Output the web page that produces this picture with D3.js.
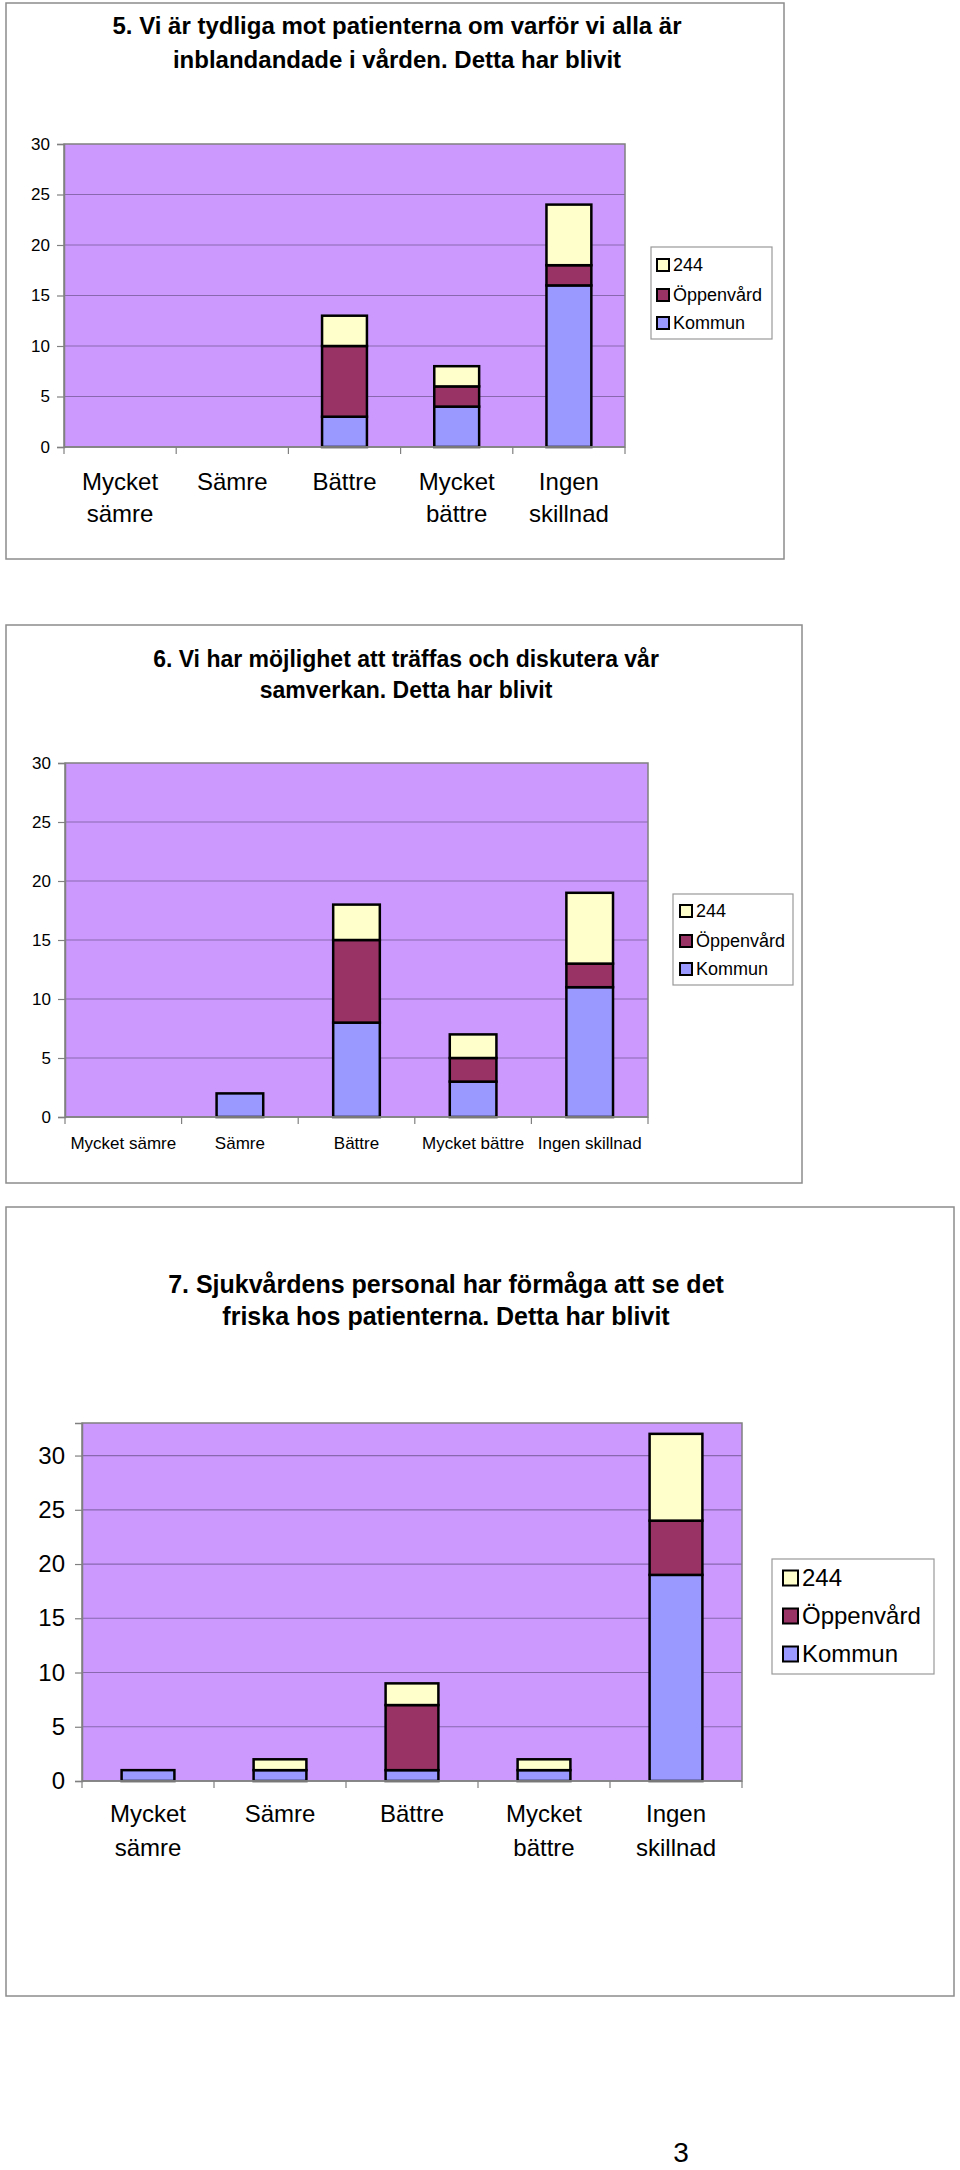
<!DOCTYPE html>
<html>
<head>
<meta charset="utf-8">
<script src="https://cdn.jsdelivr.net/npm/d3@7"></script>
<style>
  html, body { margin: 0; padding: 0; background: #fff; }
  svg { display: block; }
  text { font-family: "Liberation Sans", Arial, sans-serif; fill: #000; }
</style>
</head>
<body>
<svg id="page" width="960" height="2170"></svg>
<script>
// ---------- DATA ----------
const categories = ["Mycket sämre", "Sämre", "Bättre", "Mycket bättre", "Ingen skillnad"];
const seriesNames = ["Kommun", "Öppenvård", "244"];
const legendOrder = ["244", "Öppenvård", "Kommun"];
const yTicks = [0, 5, 10, 15, 20, 25, 30];

const q5Title = ["5. Vi är tydliga mot patienterna om varför vi alla är", "inblandandade i vården. Detta har blivit"];
const q5Kommun = [0, 0, 3, 4, 16];
const q5Oppenvard = [0, 0, 7, 2, 2];
const q5Ny244 = [0, 0, 3, 2, 6];

const q6Title = ["6. Vi har möjlighet att träffas och diskutera vår", "samverkan. Detta har blivit"];
const q6Kommun = [0, 2, 8, 3, 11];
const q6Oppenvard = [0, 0, 7, 2, 2];
const q6Ny244 = [0, 0, 3, 2, 6];

const q7Title = ["7. Sjukvårdens personal har förmåga att se det", "friska hos patienterna. Detta har blivit"];
const q7Kommun = [1, 1, 1, 1, 19];
const q7Oppenvard = [0, 0, 6, 0, 5];
const q7Ny244 = [0, 1, 2, 1, 8];

const pageNumber = "3";

// ---------- STYLE ----------
const colors = { "Kommun": "#9999FF", "Öppenvård": "#993366", "244": "#FFFFCC" };
const plotFill = "#CC99FF";
const gridColor = "#8a68b0";
const axisColor = "#808080";

const svg = d3.select("#page");

function drawChart(cfg) {
  const g = svg.append("g");
  // outer frame
  g.append("rect")
    .attr("x", cfg.frame[0]).attr("y", cfg.frame[1])
    .attr("width", cfg.frame[2] - cfg.frame[0]).attr("height", cfg.frame[3] - cfg.frame[1])
    .attr("fill", "#fff").attr("stroke", "#8c8c8c").attr("stroke-width", 1.5);

  // title
  cfg.title.forEach((line, i) => {
    g.append("text")
      .attr("x", cfg.titleX).attr("y", cfg.titleY + i * cfg.titleGap)
      .attr("text-anchor", "middle")
      .attr("font-weight", "bold")
      .attr("font-size", cfg.titleSize)
      .text(line);
  });

  const [L, T, R, B] = cfg.plot;
  const x = d3.scaleBand().domain(categories).range([L, R]).paddingInner(0.6).paddingOuter(0.3);
  const xb = d3.scaleBand().domain(categories).range([L, R]);
  const y = d3.scaleLinear().domain([0, cfg.yMax]).range([B, T]);

  // plot area
  g.append("rect").attr("x", L).attr("y", T).attr("width", R - L).attr("height", B - T)
    .attr("fill", plotFill);

  // gridlines
  g.selectAll(".grid").data(yTicks.filter(t => t > 0 && y(t) > T + 1)).enter().append("line")
    .attr("x1", L).attr("x2", R).attr("y1", d => y(d)).attr("y2", d => y(d))
    .attr("stroke", gridColor).attr("stroke-width", 1.2);

  // stacked bars
  const rows = categories.map((c, i) => ({ cat: c, "Kommun": cfg.kommun[i], "Öppenvård": cfg.oppen[i], "244": cfg.ny244[i] }));
  const stacked = d3.stack().keys(seriesNames)(rows);
  stacked.forEach(layer => {
    g.append("g").selectAll("rect").data(layer.filter(d => d[1] - d[0] > 0)).enter().append("rect")
      .attr("x", d => x(d.data.cat))
      .attr("width", x.bandwidth())
      .attr("y", d => y(d[1]))
      .attr("height", d => y(d[0]) - y(d[1]))
      .attr("fill", colors[layer.key])
      .attr("stroke", "#000").attr("stroke-width", 2.5);
  });

  // plot border
  g.append("rect").attr("x", L).attr("y", T).attr("width", R - L).attr("height", B - T)
    .attr("fill", "none").attr("stroke", axisColor).attr("stroke-width", 1.5);

  // y axis
  const yAxis = d3.axisLeft(y).tickValues(yTicks).tickSize(7).tickPadding(cfg.yPad).tickFormat(d3.format("d"));
  const ya = g.append("g").attr("transform", `translate(${L},0)`).call(yAxis);
  ya.select(".domain").attr("stroke", axisColor).attr("stroke-width", 1.5);
  ya.selectAll(".tick line").attr("stroke", axisColor).attr("stroke-width", 1.2);
  ya.selectAll(".tick text").attr("font-size", cfg.yFont).attr("font-family", "Liberation Sans, Arial, sans-serif").attr("fill", "#000");

  // x axis (ticks at band boundaries)
  const xa = g.append("g").attr("transform", `translate(0,${B})`);
  xa.append("line").attr("x1", L).attr("x2", R).attr("stroke", axisColor).attr("stroke-width", 1.5);
  const bounds = categories.map(c => xb(c)).concat([R]);
  xa.selectAll(".xt").data(bounds).enter().append("line")
    .attr("x1", d => d).attr("x2", d => d).attr("y1", 0).attr("y2", 7)
    .attr("stroke", axisColor).attr("stroke-width", 1.2);

  // category labels
  categories.forEach(c => {
    const cx = xb(c) + xb.bandwidth() / 2;
    const lines = cfg.wrap ? c.split(" ") : [c];
    lines.forEach((ln, i) => {
      g.append("text").attr("x", cx).attr("y", cfg.xLabelY + i * cfg.xLabelGap)
        .attr("text-anchor", "middle").attr("font-size", cfg.xFont).text(ln);
    });
  });

  // legend
  const [lx0, ly0, lx1, ly1] = cfg.legend;
  g.append("rect").attr("x", lx0).attr("y", ly0).attr("width", lx1 - lx0).attr("height", ly1 - ly0)
    .attr("fill", "#fff").attr("stroke", "#999").attr("stroke-width", 1.2);
  legendOrder.forEach((name, i) => {
    const cy = cfg.legendRows[i];
    g.append("rect").attr("x", cfg.swX).attr("y", cy - cfg.sw / 2).attr("width", cfg.sw).attr("height", cfg.sw)
      .attr("fill", colors[name]).attr("stroke", "#000").attr("stroke-width", 2);
    g.append("text").attr("x", cfg.swX + cfg.sw + 4).attr("y", cy).attr("dy", "0.35em")
      .attr("font-size", cfg.legendFont).text(name);
  });
}

drawChart({
  frame: [6, 3, 784, 559],
  title: q5Title, titleX: 397, titleY: 34, titleGap: 34, titleSize: 24,
  plot: [64, 144, 625, 447], yMax: 30,
  kommun: q5Kommun, oppen: q5Oppenvard, ny244: q5Ny244,
  yFont: 17, yPad: 7, xFont: 24, wrap: true, xLabelY: 490, xLabelGap: 32,
  legend: [651, 247, 772, 339], legendRows: [265, 295, 323], swX: 657, sw: 12, legendFont: 18
});

drawChart({
  frame: [6, 625, 802, 1183],
  title: q6Title, titleX: 406, titleY: 667, titleGap: 31, titleSize: 23,
  plot: [65, 763, 648, 1117], yMax: 30,
  kommun: q6Kommun, oppen: q6Oppenvard, ny244: q6Ny244,
  yFont: 17, yPad: 7, xFont: 17, wrap: false, xLabelY: 1149, xLabelGap: 0,
  legend: [673, 894, 793, 985], legendRows: [911, 941, 969], swX: 680, sw: 12, legendFont: 18
});

drawChart({
  frame: [6, 1207, 954, 1996],
  title: q7Title, titleX: 446, titleY: 1293, titleGap: 32, titleSize: 25,
  plot: [82, 1423, 742, 1781], yMax: 33,
  kommun: q7Kommun, oppen: q7Oppenvard, ny244: q7Ny244,
  yFont: 24, yPad: 10, xFont: 24, wrap: true, xLabelY: 1822, xLabelGap: 34,
  legend: [772, 1559, 934, 1674], legendRows: [1578, 1616, 1654], swX: 783, sw: 15, legendFont: 24
});

svg.append("text").attr("x", 681).attr("y", 2162).attr("text-anchor", "middle")
  .attr("font-family", "Liberation Serif, Times New Roman, serif").attr("font-size", 28).text(pageNumber);
</script>
</body>
</html>
